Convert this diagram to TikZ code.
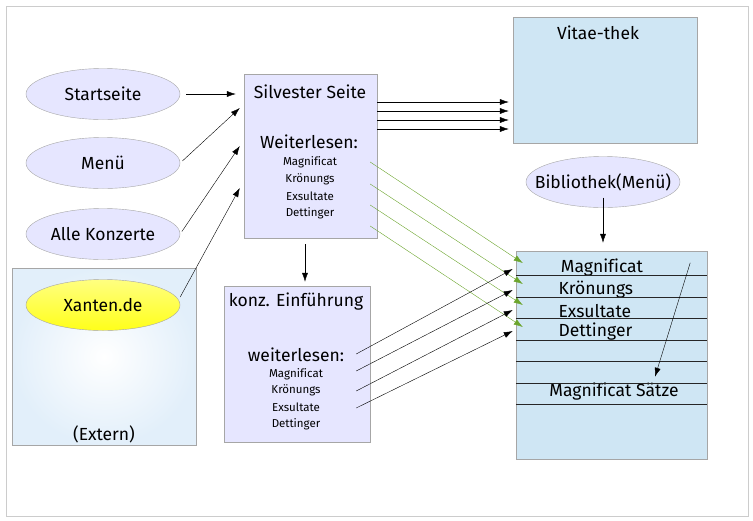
\documentclass[tikz,border=0pt]{standalone}
\usepackage{fontspec}
\setmainfont{Fira Sans}[Ligatures=NoCommon]
\usetikzlibrary{shapes.geometric, arrows.meta, calc}

\definecolor{lavender}{RGB}{230,230,255}
\definecolor{paleblue}{RGB}{207,230,244}
\definecolor{externblue}{RGB}{226,239,250}
\definecolor{leafgreen}{RGB}{108,165,45}

\begin{document}
\begin{tikzpicture}[x=1pt, y=-1pt,
    oval/.style={ellipse, draw=gray!70, fill=lavender, minimum width=154pt, minimum height=51pt, inner sep=1pt, font=\fontsize{17.5}{20}\selectfont},
    pagebox/.style={draw=gray!70, inner sep=0pt},
    big/.style={font=\fontsize{17.5}{20}\selectfont},
    small/.style={font=\fontsize{11.5}{13}\selectfont},
    arr/.style={-{Latex[length=9pt, width=6pt]}},
    garr/.style={draw=leafgreen, -{Latex[length=9pt, width=6pt]}}]
    \useasboundingbox (0,0) rectangle (753,520);
    \draw[gray!40] (6,6) rectangle (748,516);

    % Boxes
    \node[pagebox, fill=lavender, minimum width=133pt, minimum height=164pt] (silvester) at (310.5,156) {};
    \node[pagebox, fill=lavender, minimum width=146pt, minimum height=156pt] (konz) at (297,364) {};
    \node[pagebox, fill=paleblue, minimum width=184pt, minimum height=126pt] (vitae) at (605,80) {};
    \node[pagebox, fill=paleblue, minimum width=191pt, minimum height=208pt] (rbox) at (611.5,355) {};
    \node[pagebox, inner color=white, outer color=externblue, draw=gray!70, minimum width=184pt, minimum height=177pt] (extern) at (104,356.5) {};

    % Ellipses
    \node[oval] (start) at (103,94) {Startseite};
    \node[oval] (menu) at (103,163) {Menü};
    \node[oval] (alle) at (103,234) {Alle Konzerte};
    \node[oval, top color=yellow!50!white, bottom color=yellow!90!white, draw=gray!70] (xanten) at (103,305) {Xanten.de};
    \node[oval, label={[big]center:Bibliothek(Menü)}] (bib) at (603,182) {};

    % Texts
    \node[big] (silvtitle) at (310,92) {Silvester Seite};
    \node[big] (weiter) at (309,142) {Weiterlesen:};
    \node[small] (s1) at (310,162) {Magnificat};
    \node[small] (s2) at (310,179) {Krönungs};
    \node[small] (s3) at (310,196) {Exsultate};
    \node[small] (s4) at (310,213) {Dettinger};
    \node[big] (konztitle) at (296,302) {konz. Einführung};
    \node[big] (weiter2) at (296,355) {weiterlesen:};
    \node[small] (k1) at (296,374) {Magnificat};
    \node[small] (k2) at (296,390) {Krönungs};
    \node[small] (k3) at (296,407) {Exsultate};
    \node[small] (k4) at (296,424) {Dettinger};
    \node[big] (vitaetitle) at (598,33) {Vitae-thek};
    \node[big] (externlabel) at (104,434) {(Extern)};
    \node[big] (r1) at (602,268) {Magnificat};
    \node[big, anchor=west] (r2) at (555,290) {Krönungs};
    \node[big, anchor=west] (r3) at (555,311) {Exsultate};
    \node[big, anchor=west] (r4) at (555,332) {Dettinger};
    \node[big] (r5) at (614,392) {Magnificat Sätze};

    % Rows
    \foreach \y in {275,297,318,340,361,383,404}
        \draw[gray!30!black] (rbox.west |- 0,\y) -- (rbox.east |- 0,\y);

    % Arrows
    \draw[arr, shorten <=6pt, shorten >=8pt] (start.east) -- (silvester.west |- start.east);
    \draw[arr, shorten <=3pt] (menu.east) -- ($(silvester.west)+(-4,-48)$);
    \draw[arr, shorten <=3pt] (alle.east) -- ($(silvester.west)+(-4,-10)$);
    \draw[arr] ($(xanten.east)+(0,-8)$) -- ($(silvester.west)+(-4,32)$);
    \foreach \y in {102,111,120,129}
        \draw[arr, shorten >=4pt] (silvester.east |- 0,\y) -- (vitae.west |- 0,\y);
    \draw[arr, shorten <=6pt, shorten >=4pt] ([xshift=-5.5pt]silvester.south) -- ([xshift=-5.5pt]silvester.south |- konz.north);
    \draw[arr, shorten <=-10pt, shorten >=8pt] (bib.south) -- (bib.south |- rbox.north);
    \foreach \a/\b in {162/263,184/284,205/305,226/327}
        \draw[garr] ([xshift=-7pt]silvester.east |- 0,\a) -- ([xshift=7pt]rbox.west |- 0,\b);
    \foreach \a/\b in {354/269,371/290,391/310,408/331}
        \draw[arr] ([xshift=-14pt]konz.east |- 0,\a) -- ([xshift=-3pt]rbox.west |- 0,\b);
    \draw[arr] ($(rbox.north east)+(-17,12)$) -- ($(r5.north)+(41,-3)$);
\end{tikzpicture}
\end{document}
